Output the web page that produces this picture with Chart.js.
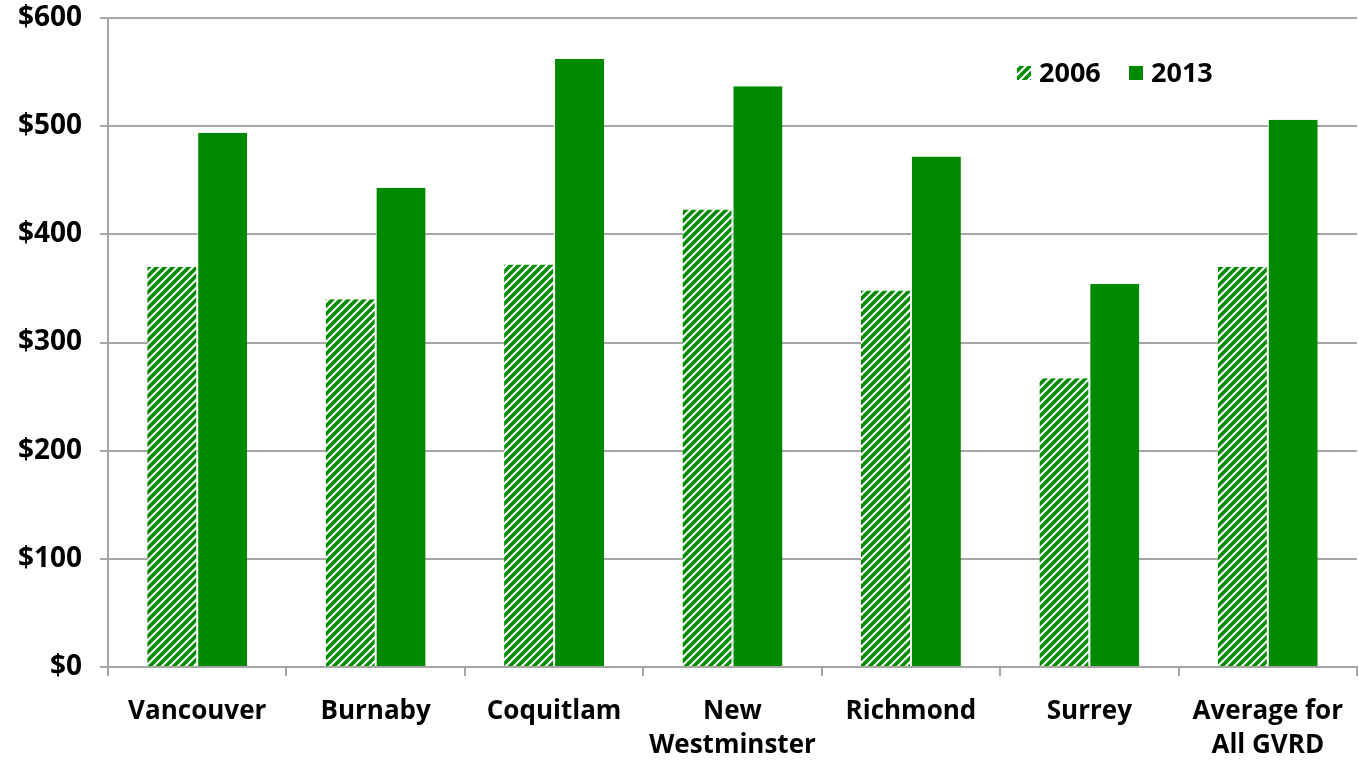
<!DOCTYPE html>
<html>
<head>
<meta charset="utf-8">
<script src="https://cdn.jsdelivr.net/npm/chart.js@4/dist/chart.umd.min.js"></script>
<style>
  html, body { margin: 0; padding: 0; background: #fff; }
  #wrap { width: 1359px; height: 761px; position: relative; }
</style>
</head>
<body>
<div id="wrap"><canvas id="c"></canvas></div>
<script>
// Categories (multi-line labels as arrays)
const categories = [
  'Vancouver',
  'Burnaby',
  'Coquitlam',
  ['New', 'Westminster'],
  'Richmond',
  'Surrey',
  ['Average for', 'All GVRD']
];
const seriesNames = ['2006', '2013'];
const values2006 = [370, 340, 372, 423, 348, 267, 370];
const values2013 = [494, 443, 562, 537, 472, 354, 506];
const yTicks = [0, 100, 200, 300, 400, 500, 600];

const GREEN = '#008a00';
const GRID = '#a6a6a6';
const FONT = "'Open Sans', 'Liberation Sans', sans-serif";

// Diagonal hatch fill for the 2006 bars
function makeHatch() {
  const s = 8;
  const p = document.createElement('canvas');
  p.width = s; p.height = s;
  const g = p.getContext('2d');
  g.fillStyle = '#ffffff';
  g.fillRect(0, 0, s, s);
  g.strokeStyle = GREEN;
  g.lineWidth = 3.6;
  g.beginPath();
  g.moveTo(-2, s + 2); g.lineTo(s + 2, -2);
  g.moveTo(-2, 2); g.lineTo(2, -2);
  g.moveTo(s - 2, s + 2); g.lineTo(s + 2, s - 2);
  g.stroke();
  return document.getElementById('c').getContext('2d').createPattern(p, 'repeat');
}
const hatch = makeHatch();

// Legend drawn inside the plot area, upper right
const insideLegend = {
  id: 'insideLegend',
  afterDraw(chart) {
    const ctx = chart.ctx;
    const items = [
      { text: seriesNames[0], fill: hatch, x: 1017 },
      { text: seriesNames[1], fill: GREEN, x: 1129 }
    ];
    ctx.save();
    ctx.font = 'bold 27px ' + FONT;
    ctx.textBaseline = 'middle';
    ctx.textAlign = 'left';
    items.forEach(it => {
      ctx.fillStyle = it.fill;
      ctx.fillRect(it.x, 66, 14, 14);
      ctx.fillStyle = '#000';
      ctx.fillText(it.text, it.x + 22, 74);
    });
    ctx.restore();
  }
};

new Chart(document.getElementById('c'), {
  type: 'bar',
  data: {
    labels: categories,
    datasets: [
      {
        label: seriesNames[0],
        data: values2006,
        backgroundColor: hatch,
        borderColor: '#ffffff',
        borderWidth: { left: 0, right: 1, top: 0, bottom: 0 },
        borderSkipped: false
      },
      {
        label: seriesNames[1],
        data: values2013,
        backgroundColor: GREEN,
        borderColor: '#ffffff',
        borderWidth: { left: 1, right: 0, top: 0, bottom: 0 },
        borderSkipped: false
      }
    ]
  },
  options: {
    responsive: true,
    maintainAspectRatio: false,
    animation: false,
    layout: { padding: { top: 18, right: 2, left: 0, bottom: 0 } },
    datasets: {
      bar: { categoryPercentage: 0.56, barPercentage: 1.0 }
    },
    plugins: {
      legend: { display: false },
      tooltip: { enabled: false }
    },
    scales: {
      x: {
        offset: true,
        afterFit(axis) {
          axis.height = 94;
          axis.paddingLeft = 0;
          axis.paddingRight = 0;
        },
        grid: {
          offset: true,
          drawOnChartArea: false,
          drawTicks: true,
          tickLength: 9,
          color: GRID,
          lineWidth: 2
        },
        border: { color: GRID, width: 2 },
        ticks: {
          color: '#000',
          font: { family: FONT, size: 26, weight: 'bold', lineHeight: 1.33 },
          padding: 18,
          maxRotation: 0,
          autoSkip: false
        }
      },
      y: {
        min: 0,
        max: 600,
        afterBuildTicks(axis) { axis.ticks = yTicks.map(v => ({ value: v })); },
        afterFit(axis) {
          axis.width = 108;
          axis.paddingTop = 0;
          axis.paddingBottom = 0;
        },
        grid: {
          color: GRID,
          lineWidth: 2,
          drawTicks: true,
          tickLength: 8
        },
        border: { color: GRID, width: 2 },
        ticks: {
          color: '#000',
          font: { family: FONT, size: 28, weight: 'bold' },
          padding: 18,
          callback: v => '$' + v
        }
      }
    }
  },
  plugins: [insideLegend]
});
</script>
</body>
</html>
